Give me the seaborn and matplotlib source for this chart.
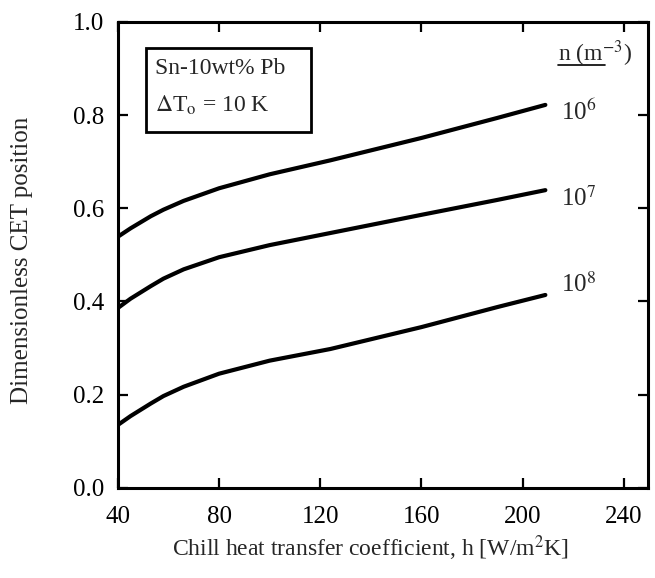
import matplotlib
matplotlib.use("Agg")
import matplotlib.pyplot as plt
import seaborn as sns
import pandas as pd
from matplotlib.patches import Rectangle
from matplotlib.lines import Line2D

# Chill heat transfer coefficient h [W/m^2K]
h_values = [40, 45, 53, 58, 66, 80, 100, 124, 160, 190, 209]
# Dimensionless CET position for each nucleation density n
cet_n6 = [0.539, 0.557, 0.583, 0.597, 0.616, 0.643, 0.673, 0.703, 0.751, 0.794, 0.822]
cet_n7 = [0.386, 0.406, 0.433, 0.449, 0.469, 0.495, 0.521, 0.547, 0.586, 0.618, 0.639]
cet_n8 = [0.135, 0.154, 0.181, 0.197, 0.217, 0.245, 0.273, 0.298, 0.345, 0.388, 0.414]
series_labels = ["10$^{6}$", "10$^{7}$", "10$^{8}$"]
x_ticks = [40, 80, 120, 160, 200, 240]
y_ticks = [0.0, 0.2, 0.4, 0.6, 0.8, 1.0]

df = pd.concat([
    pd.DataFrame({"h": h_values, "cet": vals, "n": lab})
    for vals, lab in zip([cet_n6, cet_n7, cet_n8], series_labels)
])

sns.set_theme(style="ticks")
plt.rcParams["font.family"] = ["Liberation Serif", "DejaVu Serif"]
plt.rcParams["mathtext.fontset"] = "stix"

fig = plt.figure(figsize=(6.55, 5.78), dpi=100)
ax = fig.add_axes([0.180, 0.156, 0.809, 0.806])

sns.lineplot(data=df, x="h", y="cet", hue="n", palette=["black"] * 3,
             linewidth=3.0, legend=False, estimator=None, ax=ax)

ax.set_xlim(40, 249.5)
ax.set_ylim(0.0, 1.0)
ax.set_xticks(x_ticks)
ax.set_yticks(y_ticks)
ax.set_xticklabels([str(t) for t in x_ticks])
ax.set_yticklabels([f"{t:.1f}" for t in y_ticks])
ax.tick_params(direction="in", length=7, width=1.6, top=True, right=True,
               labelsize=18, colors="black")
ax.tick_params(axis="x", pad=13)
ax.tick_params(axis="y", pad=10)
for sp in ax.spines.values():
    sp.set_linewidth(2.2)
    sp.set_color("black")

ax.set_xlabel("Chill heat transfer coefficient, h [W/m$^{2}$K]", fontsize=17)
ax.set_ylabel("Dimensionless CET position", fontsize=18)
ax.xaxis.set_label_coords(0.477, -0.129)
ax.yaxis.set_label_coords(-0.181, 0.489)
ax.xaxis.label.set_va("center")
ax.yaxis.label.set_va("center")

# Alloy / undercooling box
ax.add_patch(Rectangle((0.053, 0.764), 0.311, 0.180, transform=ax.transAxes,
                       fill=False, linewidth=2.0, edgecolor="black"))
ax.text(0.070, 0.901, "Sn-10wt% Pb", transform=ax.transAxes, fontsize=17,
        va="center", ha="left")
ax.text(0.070, 0.822, r"$\Delta$T$_{\mathrm{o}}$ = 10 K", transform=ax.transAxes,
        fontsize=17, va="center", ha="left")

# Series header and labels
ax.text(0.830, 0.932, "n (m$^{-3}$)", transform=ax.transAxes, fontsize=17,
        va="center", ha="left")
ax.add_line(Line2D([0.830, 0.920], [0.908, 0.908], transform=ax.transAxes,
                   color="black", linewidth=1.2))
label_y = [0.807, 0.622, 0.436]
for lab, yv in zip(series_labels, label_y):
    ax.text(215.0, yv, lab, fontsize=18, va="center", ha="left")

fig.savefig("out.png", dpi=100)
